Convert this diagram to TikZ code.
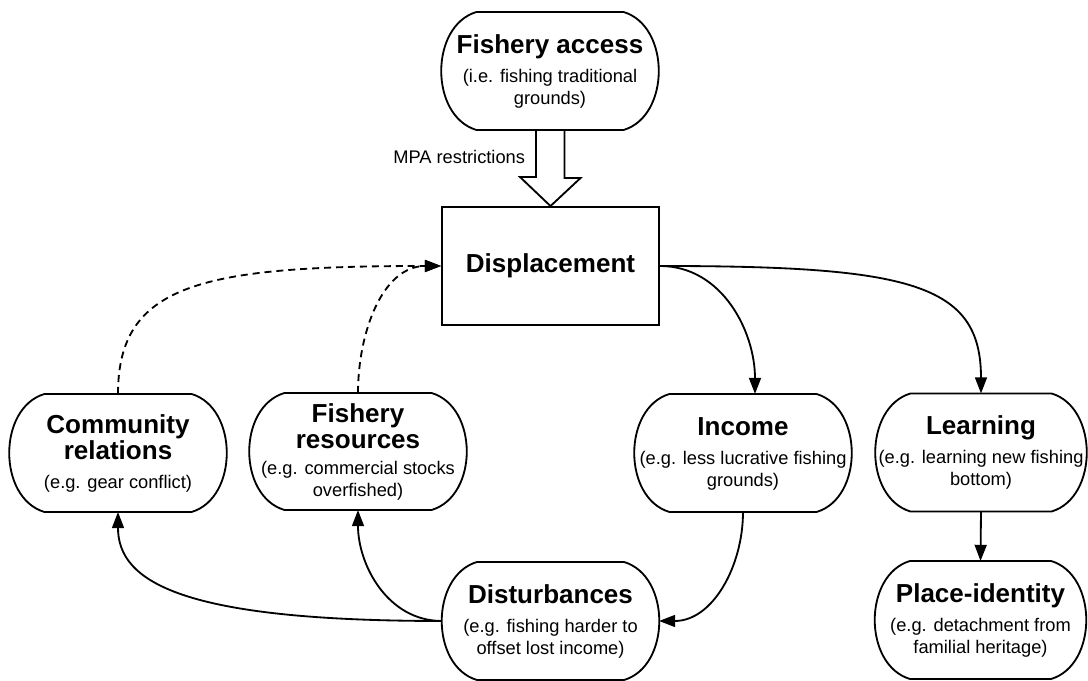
\documentclass[tikz,border=0pt]{standalone}
\usepackage{fontspec}
\setmainfont{Liberation Sans}
\usetikzlibrary{arrows.meta,calc}

\newcommand{\hd}[1]{{\fontsize{18.5}{22}\selectfont\bfseries\rule[-4pt]{0pt}{17.5pt}#1}}

\begin{document}
\begin{tikzpicture}[
        x=0.025cm, y=0.025cm,
        topic/.style={rectangle, minimum width=5.425cm, minimum height=2.95cm, inner xsep=0pt,
            outer sep=0pt, align=center, font=\fontsize{13}{15.6}\selectfont,
            append after command={\pgfextra{\let\tn\tikzlastnode
                \draw[line width=1.3pt] ($(\tn.north west)+(35,0)$) -- ($(\tn.north east)+(-35,0)$)
                    .. controls ($(\tn.north east)+(12,-14)$) and ($(\tn.south east)+(12,14)$) .. ($(\tn.south east)+(-35,0)$)
                    -- ($(\tn.south west)+(35,0)$)
                    .. controls ($(\tn.south west)+(-12,14)$) and ($(\tn.north west)+(-12,-14)$) .. cycle;}}},
        hub/.style={draw, line width=1.3pt, rectangle, minimum width=5.425cm, minimum height=2.95cm},
        link/.style={line width=1.3pt, -{Triangle[length=11.5pt,width=8.5pt]}},
        feedback/.style={link, dash pattern=on 5pt off 3.5pt},
        lbl/.style={font=\fontsize{13}{15.6}\selectfont}
    ]
        \useasboundingbox (0,0) rectangle (1088,681);

        % Top and centre
        \node[topic] (access) at (550,610) {\hd{Fishery access}\\[5pt](i.e. fishing traditional\\grounds)};
        \node[hub] (displ) at (550.5,415) {\hd{Displacement}};

        % MPA restrictions arrow
        \draw[line width=1.3pt, line join=miter] ($(access.south)+(-14,0)$) -- ++(0,-47) -- ++(-16,0)
            -- (displ.north) -- ++(30,28) -- ++(-16,0) -- ++(0,47);
        \node[lbl, anchor=east] (mpa) at ($(access.south)+(-20,-27)$) {MPA restrictions};

        % Middle row
        \node[topic] (comm) at (118,228) {\hd{Community}\\\hd{relations}\\[5pt](e.g. gear conflict)};
        \node[topic, minimum height=2.925cm] (res) at (358,229.5) {\hd{Fishery}\\\hd{resources}\\[3pt](e.g. commercial stocks\\overfished)};
        \node[topic] (inc) at (743,228) {\hd{Income}\\[5pt](e.g. less lucrative fishing\\grounds)};
        \node[topic, minimum width=5.275cm] (learn) at (981,228.5) {\hd{Learning}\\[5pt](e.g. learning new fishing\\bottom)};

        % Bottom row
        \node[topic] (dist) at (550.5,60) {\hd{Disturbances}\\[5pt](e.g. fishing harder to\\offset lost income)};
        \node[topic, minimum width=5.275cm] (place) at (980.5,61) {\hd{Place-identity}\\[5pt](e.g. detachment from\\familial heritage)};

        % Effects of displacement
        \draw[link] (displ.east) to[out=0, in=90] ($(inc.north)+(12,0)$);
        \draw[link] (displ.east) .. controls +(250,0) and +(0,110) .. (learn.north);
        \draw[link] (learn.south) -- (place.north);
        \draw[link] (inc.south) to[out=-90, in=0] (dist.east);
        \draw[link] (dist.west) .. controls +(-260,0) and +(0,-70) .. (comm.south);
        \draw[link] (dist.west) to[out=180, in=-90] (res.south);

        % Feedback to displacement
        \draw[feedback] (comm.north) .. controls +(0,110) and +(-240,0) .. (displ.west);
        \draw[feedback] (res.north) to[out=90, in=180] (displ.west);

    \end{tikzpicture}
\end{document}
